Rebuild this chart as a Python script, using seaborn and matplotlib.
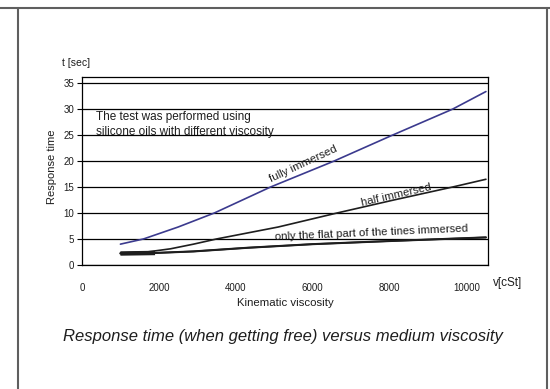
import matplotlib

matplotlib.use("Agg")
import matplotlib.pyplot as plt
import pandas as pd
import seaborn as sns
from matplotlib.lines import Line2D

# values
visc_full = [1000, 1600, 2500, 3440, 4900, 6550, 8070, 9630, 10500]
time_full = [4.0, 5.0, 7.3, 10.0, 15.0, 20.0, 25.0, 30.0, 33.4]

visc_half = [1000, 1700, 2300, 2900, 3500, 5100, 6630, 8100, 9630, 10500]
time_half = [2.3, 2.5, 3.1, 4.0, 5.0, 7.3, 10.0, 12.5, 15.0, 16.5]

visc_flat = [1000, 1900, 2900, 4300, 6000, 8000, 10500]
time_flat = [2.2, 2.3, 2.6, 3.3, 4.0, 4.6, 5.3]

series_names = ["fully immersed", "half immersed", "only the flat part of the tines immersed"]
x_ticks = [0, 2000, 4000, 6000, 8000, 10000]
y_ticks = [0, 5, 10, 15, 20, 25, 30, 35]

BLUE = "#3b3a8e"
INK = "#1e1e1e"

sns.set_style("white")
plt.rcParams["font.family"] = ["Liberation Sans", "DejaVu Sans"]

df = pd.concat(
    [
        pd.DataFrame({"visc": visc_full, "time": time_full, "series": series_names[0]}),
        pd.DataFrame({"visc": visc_half, "time": time_half, "series": series_names[1]}),
        pd.DataFrame({"visc": visc_flat, "time": time_flat, "series": series_names[2]}),
    ],
    ignore_index=True,
)

fig = plt.figure(figsize=(5.5, 3.89), dpi=100)
ax = fig.add_axes([0.149, 0.319, 0.738, 0.483])

# horizontal grid lines drawn under the data
for yv in y_ticks:
    ax.axhline(yv, color="black", lw=0.9, zorder=1)

palette = {series_names[0]: BLUE, series_names[1]: INK, series_names[2]: INK}
sns.lineplot(data=df, x="visc", y="time", hue="series", palette=palette,
             linewidth=1.2, legend=False, ax=ax, zorder=3)
# the flat-part curve is a bit heavier, with a thick stub at the start
ax.plot(visc_flat, time_flat, color=INK, lw=1.5, zorder=3)
ax.plot(visc_flat[:2], time_flat[:2], color=INK, lw=3.2, solid_capstyle="butt", zorder=4)

ax.set_xlim(0, 10550)
ax.set_ylim(0, 36.2)
ax.set_xticks(x_ticks)
ax.set_xticklabels([str(v) for v in x_ticks])
ax.set_yticks(y_ticks)
ax.tick_params(axis="x", length=0, pad=13, labelsize=7, labelcolor=INK)
ax.tick_params(axis="y", direction="out", length=3.5, width=0.8, pad=2,
               labelsize=7, labelcolor=INK, left=True, color="black")
for sp in ax.spines.values():
    sp.set_visible(True)
    sp.set_color("black")
    sp.set_linewidth(0.9)

ax.set_xlabel("Kinematic viscosity", fontsize=8.2, color=INK)
ax.xaxis.set_label_coords(0.5, -0.175)
ax.set_ylabel("Response time", fontsize=8, color=INK)
ax.yaxis.set_label_coords(-0.062, 0.52)

ax.text(-0.05, 1.075, "t [sec]", transform=ax.transAxes, fontsize=7.5,
        color=INK, ha="left", va="center")
ax.text(1.012, -0.096, "v[cSt]", transform=ax.transAxes, fontsize=8.5,
        color=INK, ha="left", va="center")

ax.text(360, 27.0, "The test was performed using\nsilicone oils with different viscosity",
        fontsize=8.5, color=INK, ha="left", va="center", linespacing=1.35, zorder=5)

ax.text(5755, 19.4, series_names[0], fontsize=8.2, color=INK, rotation=25,
        ha="center", va="center", rotation_mode="anchor", zorder=5)
ax.text(8180, 13.5, series_names[1], fontsize=8.2, color=INK, rotation=13,
        ha="center", va="center", rotation_mode="anchor", zorder=5)
ax.text(7530, 6.25, series_names[2], fontsize=8.2, color=INK, rotation=2.5,
        ha="center", va="center", rotation_mode="anchor", zorder=5)

fig.text(0.515, 1 - 336 / 389, "Response time (when getting free) versus medium viscosity",
         fontsize=12, style="italic", color=INK, ha="center", va="center")

# outer page frame
frame = dict(color="#5f5f5f", lw=1.5, transform=fig.transFigure)
fig.add_artist(Line2D([0, 1], [0.9794, 0.9794], **frame))
fig.add_artist(Line2D([0.0336, 0.0336], [0, 0.9794], **frame))
fig.add_artist(Line2D([0.9945, 0.9945], [0, 0.9794], **frame))

fig.savefig("out.png", dpi=100)
